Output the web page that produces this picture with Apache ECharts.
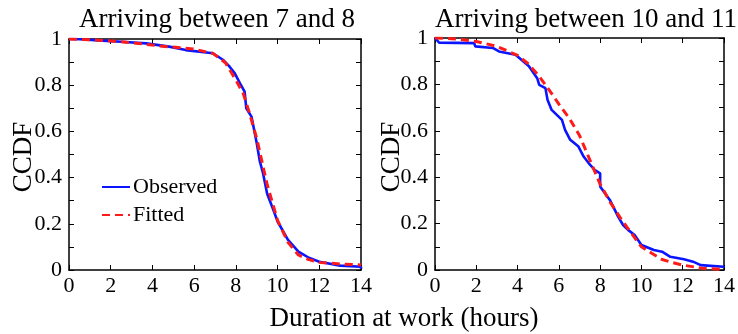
<!DOCTYPE html>
<html>
<head>
<meta charset="utf-8">
<script src="https://cdn.jsdelivr.net/npm/echarts@6/dist/echarts.min.js"></script>
<style>
  html, body { margin: 0; padding: 0; background: #fff; }
  #chart { width: 738px; height: 334px; }
</style>
</head>
<body>
<div id="chart"></div>
<script>
// arriving 7-8: observed CCDF and fitted curve, [hours, ccdf]
const earlyObserved = [
  [0, 1], [0.5, 0.999], [1.6, 0.993], [2.5, 0.988], [3.7, 0.981], [4.8, 0.967],
  [5.6, 0.952], [6.9, 0.938], [7.4, 0.909], [7.7, 0.88], [7.95, 0.851], [8.2, 0.808],
  [8.42, 0.772], [8.5, 0.765], [8.5, 0.70], [8.75, 0.664], [9.0, 0.55], [9.15, 0.47],
  [9.3, 0.42], [9.5, 0.33], [9.8, 0.26], [10.0, 0.21], [10.5, 0.13], [11, 0.08],
  [11.5, 0.053], [12, 0.036], [13, 0.019], [14, 0.014], [14, 0.005]
]
const earlyFitted = [
  [0, 1], [1.2, 0.996], [2.2, 0.99], [3.2, 0.982], [4.35, 0.97], [5.95, 0.957],
  [6.9, 0.938], [7.5, 0.897], [8, 0.823], [8.35, 0.765], [8.65, 0.68], [9, 0.57],
  [9.5, 0.37], [10, 0.215], [10.5, 0.12], [11, 0.065], [11.5, 0.045], [12, 0.033],
  [13, 0.026], [14, 0.022]
]
// arriving 10-11
const lateObserved = [
  [0, 1], [0.2, 0.98], [1.9, 0.978], [1.95, 0.964], [2.8, 0.957], [3.1, 0.942],
  [3.9, 0.928], [4.2, 0.905], [4.55, 0.878], [4.95, 0.827], [5.05, 0.798], [5.35, 0.784],
  [5.45, 0.734], [5.65, 0.69], [6.15, 0.647], [6.3, 0.604], [6.55, 0.561], [6.95, 0.532],
  [7.2, 0.489], [7.45, 0.46], [7.75, 0.43], [8.0, 0.417], [8.0, 0.36], [8.23, 0.331],
  [8.47, 0.302], [8.71, 0.259], [8.87, 0.23], [9.11, 0.194], [9.35, 0.173], [9.67, 0.151],
  [10.0, 0.108], [10.3, 0.097], [10.6, 0.086], [11.0, 0.079], [11.4, 0.057], [12.06, 0.046],
  [12.5, 0.036], [12.87, 0.021], [13.98, 0.014], [14, 0.01]
]
const lateFitted = [
  [0, 1], [1, 0.996], [2, 0.985], [3, 0.964], [4, 0.925], [4.5, 0.89], [5, 0.84],
  [5.5, 0.78], [6, 0.715], [6.5, 0.655], [7, 0.58], [7.5, 0.475], [8, 0.37],
  [8.5, 0.29], [9, 0.222], [9.5, 0.16], [10, 0.1], [10.5, 0.072], [11, 0.045],
  [11.5, 0.032], [12, 0.021], [13, 0.007], [14, 0.002]
]
const panelTitles = ['Arriving between 7 and 8', 'Arriving between 10 and 11']
const xTitle = 'Duration at work (hours)'
const yTitle = 'CCDF'

const FONT = '"Liberation Serif", "DejaVu Serif", serif'
const BLUE = '#0a14ff'
const RED = '#ff1a1a'

const chart = echarts.init(document.getElementById('chart'))

// each panel gets bottom/left axes with labels plus top/right axes to close the box
const makeX = (gridIndex, position) => ({
  type: 'value', gridIndex, position, min: 0, max: 14, interval: 2,
  axisLine: { show: true, onZero: false, lineStyle: { color: '#000', width: 1.5 } },
  axisTick: { show: true, inside: true, length: 5, lineStyle: { color: '#000' } },
  axisLabel: {
    show: position === 'bottom', color: '#000', fontFamily: FONT, fontSize: 22, margin: 5
  },
  splitLine: { show: false }
})
const makeY = (gridIndex, position) => ({
  type: 'value', gridIndex, position, min: 0, max: 1, interval: 0.2,
  axisLine: { show: true, onZero: false, lineStyle: { color: '#000', width: 1.5 } },
  axisTick: { show: true, inside: true, length: 5, lineStyle: { color: '#000' } },
  minorTick: { show: true, splitNumber: 2, length: 5, lineStyle: { color: '#000' } },
  axisLabel: {
    show: position === 'left', color: '#000', fontFamily: FONT, fontSize: 22, margin: 7
  },
  splitLine: { show: false }
})

const lineSeries = (name, data, xi, yi, dashed) => ({
  name, type: 'line', data, xAxisIndex: xi, yAxisIndex: yi,
  symbol: 'none', animation: false,
  lineStyle: dashed
    ? { color: RED, width: 3, type: [8, 5] }
    : { color: BLUE, width: 2.6 },
  itemStyle: { color: dashed ? RED : BLUE }
})

const titleStyle = { fontFamily: FONT, fontSize: 27, fontWeight: 'normal', color: '#000' }
const labelStyle = { fontFamily: FONT, fontSize: 27, fill: '#000', align: 'center', verticalAlign: 'middle' }

chart.setOption({
  backgroundColor: '#fff',
  animation: false,
  title: [
    { text: panelTitles[0], left: 212, top: 1, textAlign: 'center', textStyle: titleStyle },
    { text: panelTitles[1], left: 581, top: 1, textAlign: 'center', textStyle: titleStyle }
  ],
  legend: {
    orient: 'vertical', left: 101, top: 176, padding: 0,
    itemWidth: 28, itemHeight: 14, itemGap: 6,
    data: ['Observed', 'Fitted'],
    itemStyle: { color: 'rgba(0,0,0,0)', borderColor: 'rgba(0,0,0,0)', borderWidth: 0 },
    textStyle: { fontFamily: FONT, fontSize: 22, color: '#000', padding: [0, 0, 0, -2] }
  },
  grid: [
    { left: 69, top: 39, width: 292, height: 231 },
    { left: 435, top: 38, width: 292, height: 232 }
  ],
  xAxis: [makeX(0, 'bottom'), makeX(0, 'top'), makeX(1, 'bottom'), makeX(1, 'top')],
  yAxis: [makeY(0, 'left'), makeY(0, 'right'), makeY(1, 'left'), makeY(1, 'right')],
  graphic: [
    { type: 'text', x: 24, y: 157, rotation: Math.PI / 2, style: { text: yTitle, ...labelStyle } },
    { type: 'text', x: 392, y: 157, rotation: Math.PI / 2, style: { text: yTitle, ...labelStyle } },
    { type: 'text', x: 404, y: 319, style: { text: xTitle, ...labelStyle } }
  ],
  series: [
    lineSeries('Observed', earlyObserved, 0, 0, false),
    lineSeries('Fitted', earlyFitted, 0, 0, true),
    lineSeries('Observed', lateObserved, 2, 2, false),
    lineSeries('Fitted', lateFitted, 2, 2, true)
  ]
})
</script>
</body>
</html>
